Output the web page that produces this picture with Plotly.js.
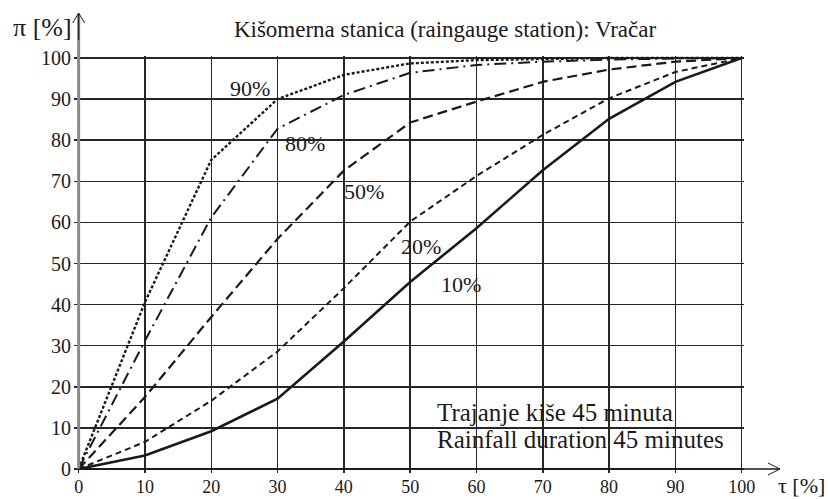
<!DOCTYPE html>
<html>
<head>
<meta charset="utf-8">
<script src="https://cdn.plot.ly/plotly-3.0.1.min.js"></script>
<style>html,body{margin:0;padding:0;background:#fff;}#chart{width:830px;height:499px;}</style>
</head>
<body>
<div id="chart"></div>
<script>
// ---- data ----
const tau = [0, 10, 20, 30, 40, 50, 60, 70, 80, 90, 100];
const p10 = [0, 3.3, 9.2, 17.1, 31, 45.5, 58.6, 72.7, 85.2, 94.2, 100];
const p20 = [0, 6.6, 16.6, 28.6, 44, 60.2, 71.3, 81.3, 90.2, 96.6, 100];
const p50 = [0, 17.5, 37, 56, 72.6, 84.3, 89.4, 94.2, 97.2, 99.1, 100];
const p80 = [0, 31.2, 61.2, 82.8, 91, 96.4, 98.3, 99.1, 99.6, 99.9, 100];
const p90 = [0, 40.6, 75.2, 90, 95.9, 98.7, 99.5, 99.8, 100, 100, 100];
const seriesNames = ['10%', '20%', '50%', '80%', '90%'];
const labelX = [57.7, 51.7, 43.1, 34.1, 25.8];
const labelY = [44.8, 54.1, 67.5, 79.3, 92.7];
const xTicks = [0, 10, 20, 30, 40, 50, 60, 70, 80, 90, 100];
const yTicks = [0, 10, 20, 30, 40, 50, 60, 70, 80, 90, 100];
const titleText = 'Kišomerna stanica (raingauge station): Vračar';
const noteLines = ['Trajanje kiše 45 minuta', 'Rainfall duration 45 minutes'];
const yLabel = 'π [%]';
const xLabel = 'τ [%]';

// ---- layout geometry ----
const W = 830, H = 499;
const M = {l: 74, r: 86, t: 56, b: 26};
const PW = W - M.l - M.r, PH = H - M.t - M.b;
const xr = [-0.7, 100.35];
const yr = [-0.97, 100.49];
const px2paperX = px => (px - M.l) / PW;
const py2paperY = py => (H - M.b - py) / PH;
const dx2px = x => M.l + (x - xr[0]) / (xr[1] - xr[0]) * PW;
const dy2py = y => H - M.b - (y - yr[0]) / (yr[1] - yr[0]) * PH;

const serif = 'Liberation Serif, Times New Roman, serif';
const ink = '#1a1a1a';

const allY = [p10, p20, p50, p80, p90];
const dashes = ['solid', '6px,4px', '10px,5px', '12px,5px,2px,5px', '3px,2px'];
const widths = [2.6, 2, 2.2, 2, 2.4];

const traces = allY.map((ys, i) => ({
  x: tau, y: ys, type: 'scatter', mode: 'lines', name: seriesNames[i],
  line: {color: ink, width: widths[i], dash: dashes[i]},
  hoverinfo: 'skip'
}));

const annotations = seriesNames.map((n, i) => ({
  x: labelX[i], y: labelY[i], xref: 'x', yref: 'y', text: n, showarrow: false,
  font: {family: serif, size: 22, color: ink}, xanchor: 'center', yanchor: 'middle'
}));
const noteY = [412, 439];
noteLines.forEach((t, i) => annotations.push({
  x: px2paperX(435), y: py2paperY(noteY[i]), xref: 'paper', yref: 'paper', text: t,
  showarrow: false, align: 'left', xanchor: 'left', yanchor: 'middle',
  font: {family: serif, size: 25, color: ink}
}));
annotations.push({
  x: px2paperX(11), y: py2paperY(28), xref: 'paper', yref: 'paper', text: yLabel,
  showarrow: false, xanchor: 'left', yanchor: 'middle',
  font: {family: serif, size: 26, color: ink}
});
annotations.push({
  x: px2paperX(826), y: py2paperY(485), xref: 'paper', yref: 'paper', text: xLabel,
  showarrow: false, xanchor: 'right', yanchor: 'middle', borderpad: 0,
  font: {family: serif, size: 22, color: ink}
});

const x0 = dx2px(0), y0 = dy2py(0);
const shapes = [
  // y axis (grey) with arrow
  {type: 'line', xref: 'paper', yref: 'paper', x0: px2paperX(x0), x1: px2paperX(x0), y0: py2paperY(y0), y1: py2paperY(14), line: {color: '#8a8a8a', width: 3}},
  {type: 'line', xref: 'paper', yref: 'paper', x0: px2paperX(x0), x1: px2paperX(x0), y0: py2paperY(40), y1: py2paperY(13), line: {color: ink, width: 1}},
  {type: 'line', xref: 'paper', yref: 'paper', x0: px2paperX(x0 - 6), x1: px2paperX(x0), y0: py2paperY(23), y1: py2paperY(13), line: {color: ink, width: 1}},
  {type: 'line', xref: 'paper', yref: 'paper', x0: px2paperX(x0 + 6), x1: px2paperX(x0), y0: py2paperY(23), y1: py2paperY(13), line: {color: ink, width: 1}},
  // x axis with arrow
  {type: 'line', xref: 'paper', yref: 'paper', x0: px2paperX(x0), x1: px2paperX(780), y0: py2paperY(y0), y1: py2paperY(y0), line: {color: ink, width: 1.5}},
  {type: 'line', xref: 'paper', yref: 'paper', x0: px2paperX(768), x1: px2paperX(780), y0: py2paperY(y0 - 6), y1: py2paperY(y0), line: {color: ink, width: 1}},
  {type: 'line', xref: 'paper', yref: 'paper', x0: px2paperX(768), x1: px2paperX(780), y0: py2paperY(y0 + 6), y1: py2paperY(y0), line: {color: ink, width: 1}}
];

const layout = {
  width: W, height: H,
  margin: M,
  paper_bgcolor: '#fff', plot_bgcolor: '#fff',
  showlegend: false,
  title: {
    text: titleText, font: {family: serif, size: 23, color: ink},
    x: 445 / W, xref: 'container', xanchor: 'center',
    y: 1 - 29 / H, yref: 'container', yanchor: 'middle'
  },
  xaxis: {
    range: xr, tickvals: xTicks, ticktext: xTicks.map(String), ticks: '',
    showgrid: true, gridcolor: '#262626', gridwidth: 1.5, zeroline: false, showline: false,
    tickfont: {family: serif, size: 18, color: ink}, ticklabelstandoff: 1, fixedrange: true
  },
  yaxis: {
    range: yr, tickvals: yTicks, ticktext: yTicks.map(String), ticks: '',
    showgrid: true, gridcolor: '#262626', gridwidth: 1.5, zeroline: false, showline: false,
    tickfont: {family: serif, size: 20, color: ink}, ticklabelstandoff: 2, fixedrange: true
  },
  annotations: annotations,
  shapes: shapes
};

Plotly.newPlot('chart', traces, layout, {displayModeBar: false, staticPlot: true});
</script>
</body>
</html>
